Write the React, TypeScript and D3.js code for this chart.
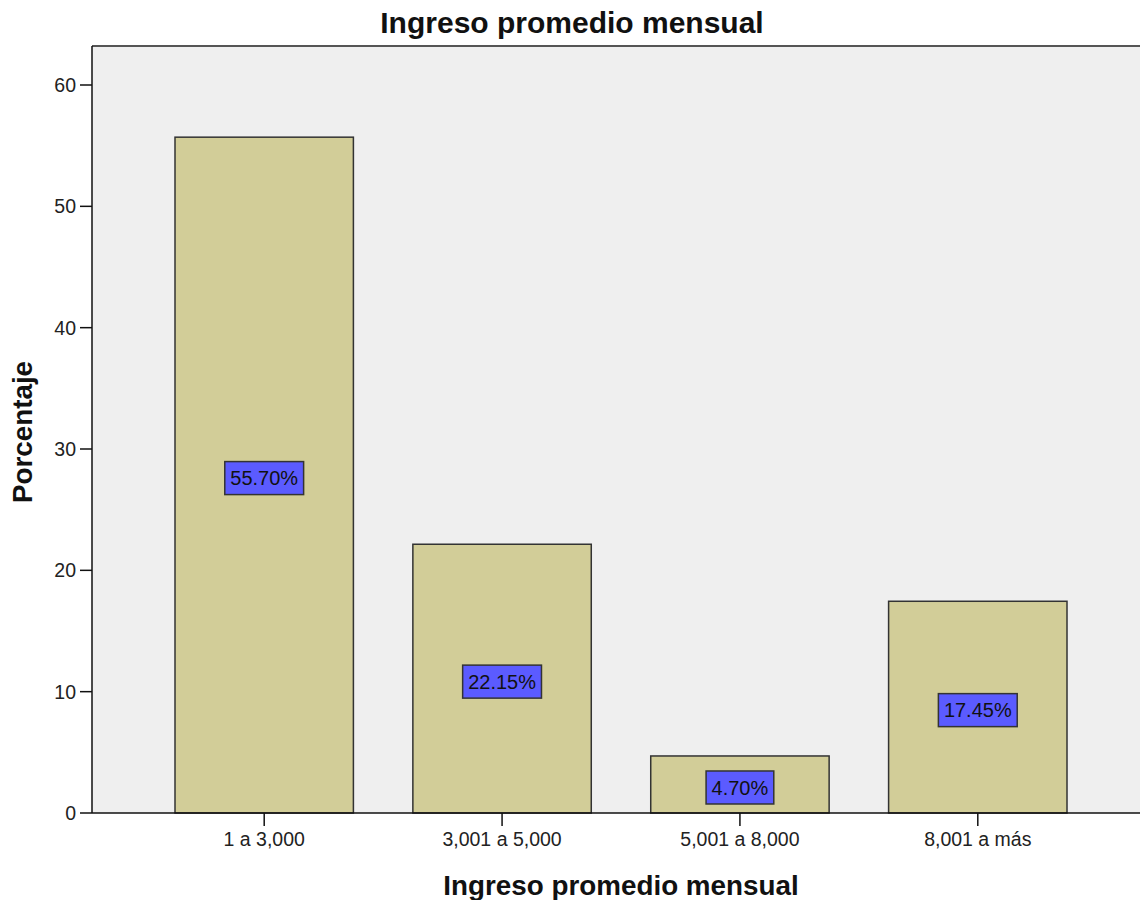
import React from "react";
import * as d3 from "d3";

const categories = ["1 a 3,000", "3,001 a 5,000", "5,001 a 8,000", "8,001 a más"];
const values = [55.7, 22.15, 4.7, 17.45];
const labels = ["55.70%", "22.15%", "4.70%", "17.45%"];
const yTicks = [0, 10, 20, 30, 40, 50, 60];

const W = 1140;
const H = 900;
const plotLeft = 92;
const plotTop = 46;
const plotBottom = 813;
const font = "Arial, 'Liberation Sans', sans-serif";

function measure(text: string, size: number): number {
  const c = document.createElement("canvas").getContext("2d");
  if (!c) return text.length * size * 0.55;
  c.font = `${size}px ${font}`;
  return c.measureText(text).width;
}

export default function App() {
  const x = d3.scaleBand<string>().domain(categories).range([175, 1067]).paddingInner(0.25).paddingOuter(0);
  const y = d3.scaleLinear().domain([0, 60]).range([plotBottom, 85]);
  return (
    <svg width={W} height={H} style={{ position: "absolute", left: 0, top: 0, background: "#fff" }} fontFamily={font}>
      <rect x={plotLeft} y={plotTop} width={W - plotLeft} height={plotBottom - plotTop} fill="#efefef" />
      <line x1={plotLeft} x2={W} y1={plotTop} y2={plotTop} stroke="#555" strokeWidth={2} />
      {categories.map((c, i) => {
        const bx = x(c)!;
        const bw = x.bandwidth();
        const top = y(values[i]);
        const cy = y(values[i] / 2) + 3;
        const cx = bx + bw / 2;
        const tw = measure(labels[i], 20) + 11;
        return (
          <g key={c}>
            <rect x={bx} y={top} width={bw} height={plotBottom - top} fill="#d2cd98" stroke="#333" strokeWidth={1.5} />
            <rect x={cx - tw / 2} y={cy - 16.5} width={tw} height={33} fill="#5b5bff" stroke="#333" strokeWidth={1.5} />
            <text x={cx} y={cy} dy="0.36em" textAnchor="middle" fontSize={20} fill="#111">{labels[i]}</text>
          </g>
        );
      })}
      <line x1={plotLeft} x2={plotLeft} y1={plotTop} y2={plotBottom} stroke="#111" strokeWidth={1.5} />
      <line x1={plotLeft} x2={W} y1={plotBottom} y2={plotBottom} stroke="#111" strokeWidth={1.5} />
      {yTicks.map((t) => (
        <g key={t}>
          <line x1={80} x2={plotLeft} y1={y(t)} y2={y(t)} stroke="#111" strokeWidth={1.5} />
          <text x={76} y={y(t)} dy="0.36em" textAnchor="end" fontSize={19.5} fill="#222">{t}</text>
        </g>
      ))}
      {categories.map((c) => {
        const cx = x(c)! + x.bandwidth() / 2;
        return (
          <g key={c}>
            <line x1={cx} x2={cx} y1={plotBottom} y2={826} stroke="#111" strokeWidth={1.5} />
            <text x={cx} y={846} textAnchor="middle" fontSize={19.5} fill="#222">{c}</text>
          </g>
        );
      })}
      <text x={572} y={33} textAnchor="middle" fontSize={30} fontWeight="bold" fill="#111">Ingreso promedio mensual</text>
      <text x={621} y={895} textAnchor="middle" fontSize={27.8} fontWeight="bold" fill="#111">Ingreso promedio mensual</text>
      <text transform={`translate(32,432) rotate(-90)`} textAnchor="middle" fontSize={27.8} fontWeight="bold" fill="#111">Porcentaje</text>
    </svg>
  );
}
